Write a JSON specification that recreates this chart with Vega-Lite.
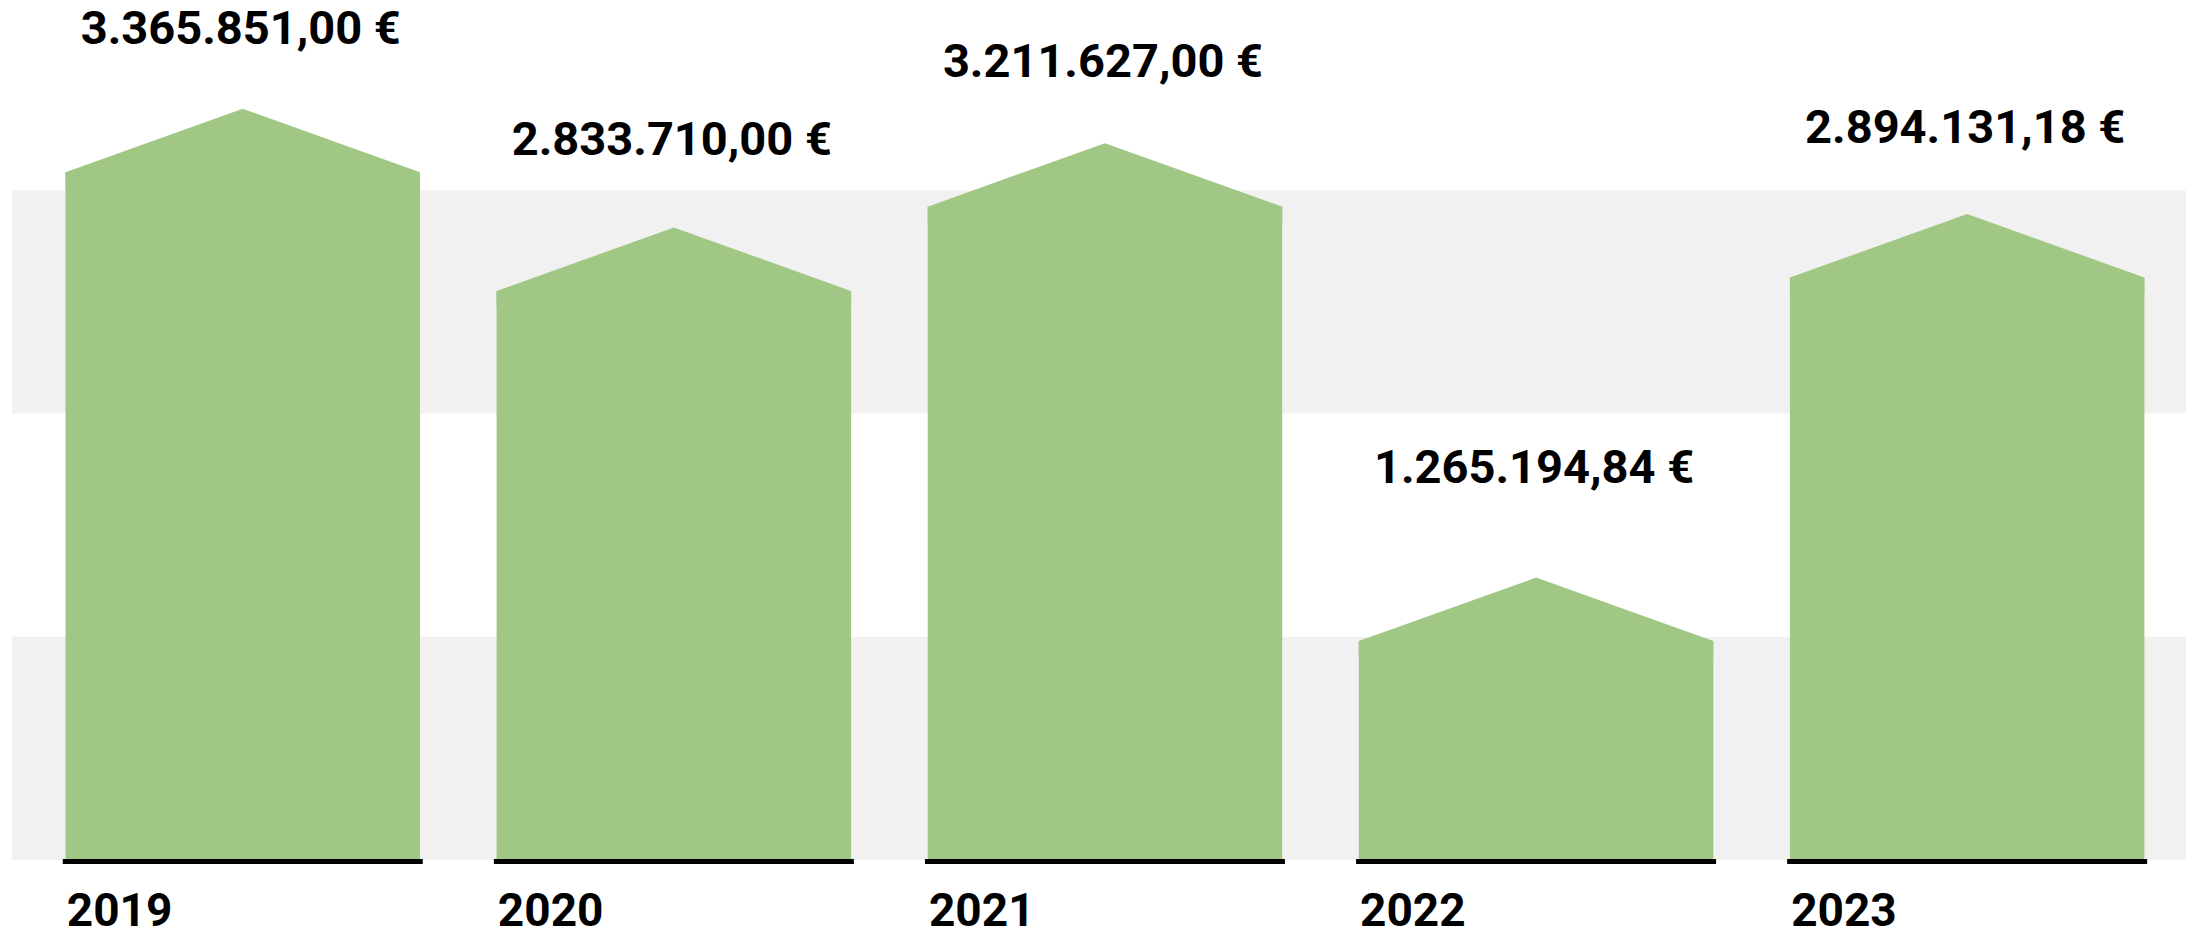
{
  "$schema": "https://vega.github.io/schema/vega-lite/v6.json",
  "width": 2174,
  "height": 860,
  "autosize": {"type": "none"},
  "padding": {"left": 12, "top": 0, "right": 0, "bottom": 73},
  "background": "white",
  "config": {
    "view": {"stroke": null},
    "locale": {"number": {"decimal": ",", "thousands": ".", "grouping": [3], "currency": ["", " €"]}},
    "axisX": {
      "domain": false, "ticks": false, "tickSize": 0, "grid": false,
      "labelAngle": 0, "labelAlign": "left", "labelBaseline": "alphabetic",
      "labelOffset": -176, "labelPadding": 65,
      "labelFont": "Roboto", "labelFontWeight": "bold", "labelFontSize": 46, "labelColor": "#000000"
    }
  },
  "datasets": {
    "spend": [
      {"year": "2019", "value": 3365851.00},
      {"year": "2020", "value": 2833710.00},
      {"year": "2021", "value": 3211627.00},
      {"year": "2022", "value": 1265194.84},
      {"year": "2023", "value": 2894131.18}
    ],
    "bands": [
      {"lo": 0, "hi": 1000000},
      {"lo": 2000000, "hi": 3000000}
    ]
  },
  "resolve": {"scale": {"y": "independent"}},
  "layer": [
    {
      "data": {"name": "bands"},
      "mark": {"type": "rect", "color": "#f1f1f1"},
      "encoding": {
        "y": {"field": "lo", "type": "quantitative", "scale": {"domain": [0, 3853000], "nice": false}, "axis": null},
        "y2": {"field": "hi"}
      }
    },
    {
      "data": {"name": "spend"},
      "mark": {"type": "bar", "color": "#a1c785", "yOffset": 63.5},
      "encoding": {
        "x": {"field": "year", "type": "ordinal", "title": null, "scale": {"paddingInner": 0.1777, "paddingOuter": 0.1103, "align": 0.5626}},
        "y": {"field": "value", "type": "quantitative", "scale": {"domain": [0, 3853000], "nice": false}, "axis": null},
        "y2": {"datum": 0}
      }
    },
    {
      "data": {"name": "spend"},
      "mark": {"type": "point", "shape": "M-1,0.3582L0,0L1,0.3582L1,0.45L-1,0.45Z", "size": 125670, "filled": true, "opacity": 1, "color": "#a1c785", "strokeWidth": 0},
      "encoding": {
        "x": {"field": "year", "type": "ordinal", "title": null},
        "y": {"field": "value", "type": "quantitative", "scale": {"domain": [0, 3853000], "nice": false}, "axis": null}
      }
    },
    {
      "data": {"name": "spend"},
      "mark": {"type": "tick", "color": "#000000", "size": 360, "thickness": 5, "yOffset": 1.5, "opacity": 1},
      "encoding": {
        "x": {"field": "year", "type": "ordinal", "title": null},
        "y": {"datum": 0, "type": "quantitative", "scale": {"domain": [0, 3853000], "nice": false}, "axis": null}
      }
    },
    {
      "data": {"name": "spend"},
      "mark": {"type": "text", "font": "Roboto", "fontWeight": "bold", "fontSize": 47, "baseline": "alphabetic", "align": "center", "dy": -112.6, "dx": -2, "color": "#000000"},
      "encoding": {
        "x": {"field": "year", "type": "ordinal", "title": null},
        "y": {"field": "value", "type": "quantitative", "scale": {"domain": [0, 4117000], "nice": false}, "axis": null},
        "text": {"field": "value", "type": "quantitative", "format": "$,.2f"}
      }
    }
  ]
}
